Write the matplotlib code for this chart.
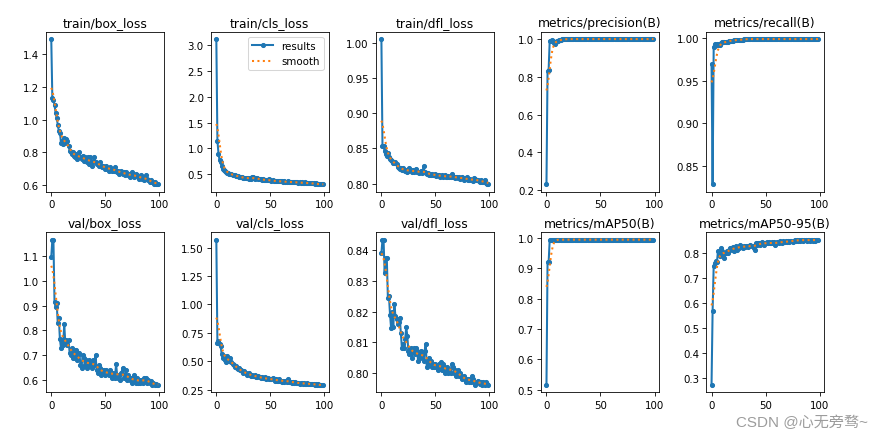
import numpy as np
import matplotlib
matplotlib.use("Agg")
import matplotlib.pyplot as plt

epochs = np.arange(100)

train_box_loss = [
    1.49, 1.13, 1.12, 1.09, 1.04, 1.01, 0.97, 0.93, 0.92, 0.86,
    0.87, 0.85, 0.89, 0.86, 0.88, 0.87, 0.84, 0.81, 0.80, 0.79,
    0.80, 0.78, 0.77, 0.79, 0.76, 0.78, 0.80, 0.77, 0.76, 0.78,
    0.75, 0.77, 0.76, 0.74, 0.77, 0.73, 0.77, 0.75, 0.72, 0.74,
    0.77, 0.74, 0.73, 0.73, 0.72, 0.74, 0.72, 0.71, 0.72, 0.71,
    0.70, 0.72, 0.70, 0.69, 0.71, 0.70, 0.69, 0.70, 0.69, 0.71,
    0.69, 0.68, 0.69, 0.67, 0.68, 0.69, 0.67, 0.68, 0.66, 0.68,
    0.67, 0.66, 0.67, 0.65, 0.66, 0.68, 0.66, 0.65, 0.67, 0.66,
    0.65, 0.64, 0.65, 0.66, 0.64, 0.65, 0.63, 0.64, 0.66, 0.64,
    0.63, 0.62, 0.63, 0.62, 0.62, 0.61, 0.62, 0.61, 0.61, 0.605,
]
train_cls_loss = [
    3.12, 1.15, 0.90, 0.77, 0.74, 0.66, 0.60, 0.58, 0.56, 0.54,
    0.53, 0.52, 0.51, 0.50, 0.50, 0.49, 0.48, 0.48, 0.47, 0.47,
    0.46, 0.45, 0.45, 0.44, 0.44, 0.43, 0.43, 0.42, 0.43, 0.42,
    0.41, 0.42, 0.41, 0.44, 0.45, 0.42, 0.41, 0.42, 0.43, 0.41,
    0.40, 0.40, 0.39, 0.40, 0.39, 0.39, 0.38, 0.38, 0.39, 0.40,
    0.38, 0.37, 0.38, 0.37, 0.37, 0.36, 0.37, 0.36, 0.36, 0.37,
    0.36, 0.36, 0.35, 0.36, 0.35, 0.35, 0.36, 0.35, 0.35, 0.34,
    0.35, 0.34, 0.35, 0.34, 0.35, 0.34, 0.33, 0.34, 0.33, 0.34,
    0.33, 0.33, 0.34, 0.33, 0.32, 0.33, 0.33, 0.32, 0.33, 0.32,
    0.32, 0.31, 0.32, 0.31, 0.31, 0.31, 0.30, 0.31, 0.30, 0.30,
]
train_dfl_loss = [
    1.005, 0.854, 0.853, 0.846, 0.842, 0.840, 0.843, 0.838, 0.835, 0.833,
    0.832, 0.830, 0.829, 0.831, 0.828, 0.824, 0.822, 0.821, 0.823, 0.820,
    0.822, 0.819, 0.818, 0.820, 0.817, 0.818, 0.822, 0.819, 0.817, 0.819,
    0.816, 0.818, 0.821, 0.817, 0.816, 0.815, 0.816, 0.818, 0.815, 0.825,
    0.817, 0.815, 0.814, 0.815, 0.813, 0.814, 0.813, 0.814, 0.812, 0.813,
    0.814, 0.811, 0.813, 0.812, 0.810, 0.811, 0.812, 0.810, 0.811, 0.812,
    0.810, 0.809, 0.811, 0.810, 0.809, 0.814, 0.810, 0.809, 0.808, 0.810,
    0.809, 0.808, 0.810, 0.807, 0.808, 0.810, 0.806, 0.808, 0.807, 0.809,
    0.806, 0.805, 0.807, 0.805, 0.806, 0.804, 0.808, 0.807, 0.805, 0.806,
    0.804, 0.803, 0.805, 0.803, 0.802, 0.804, 0.806, 0.801, 0.800, 0.799,
]
precision = [
    0.23, 0.83, 0.835, 0.99, 0.99, 0.995, 0.99, 0.98, 0.975, 0.985,
    0.99, 0.99, 0.993, 0.995, 0.997, 0.997, 0.998, 0.998, 0.999, 0.999,
] + [0.999] * 80
recall = [
    0.97, 0.828, 0.99, 0.993, 0.992, 0.993, 0.992, 0.993, 0.992, 0.994,
    0.995, 0.995, 0.995, 0.996, 0.996, 0.996, 0.997, 0.997, 0.997, 0.997,
    0.997, 0.998, 0.998, 0.998, 0.998, 0.998, 0.998, 0.998, 0.998, 0.998,
] + [0.999] * 70
val_box_loss = [
    1.095, 1.165, 1.165, 0.915, 0.895, 0.91, 0.83, 0.85, 0.765, 0.73,
    0.76, 0.74, 0.825, 0.75, 0.76, 0.74, 0.76, 0.71, 0.70, 0.73,
    0.69, 0.72, 0.69, 0.72, 0.68, 0.70, 0.71, 0.66, 0.65, 0.70,
    0.69, 0.66, 0.68, 0.65, 0.67, 0.68, 0.66, 0.67, 0.65, 0.68,
    0.66, 0.70, 0.64, 0.63, 0.66, 0.65, 0.62, 0.64, 0.63, 0.64,
    0.62, 0.64, 0.63, 0.62, 0.64, 0.63, 0.61, 0.63, 0.62, 0.61,
    0.665, 0.62, 0.61, 0.62, 0.60, 0.63, 0.65, 0.61, 0.62, 0.64,
    0.60, 0.62, 0.61, 0.60, 0.61, 0.59, 0.60, 0.62, 0.59, 0.61,
    0.59, 0.60, 0.59, 0.60, 0.60, 0.59, 0.61, 0.60, 0.61, 0.59,
    0.60, 0.59, 0.595, 0.58, 0.59, 0.585, 0.58, 0.585, 0.58, 0.58,
]
val_cls_loss = [
    1.57, 0.66, 0.68, 0.65, 0.63, 0.56, 0.53, 0.55, 0.51, 0.49,
    0.55, 0.52, 0.50, 0.53, 0.49, 0.48, 0.47, 0.45, 0.46, 0.44,
    0.43, 0.44, 0.42, 0.42, 0.41, 0.40, 0.41, 0.40, 0.38, 0.39,
    0.40, 0.38, 0.37, 0.38, 0.37, 0.37, 0.38, 0.36, 0.36, 0.37,
    0.36, 0.35, 0.36, 0.35, 0.35, 0.36, 0.34, 0.35, 0.35, 0.34,
    0.34, 0.34, 0.35, 0.34, 0.33, 0.34, 0.33, 0.33, 0.34, 0.33,
    0.33, 0.32, 0.33, 0.32, 0.33, 0.32, 0.34, 0.32, 0.32, 0.32,
    0.31, 0.32, 0.31, 0.32, 0.31, 0.31, 0.31, 0.30, 0.31, 0.31,
    0.30, 0.31, 0.30, 0.30, 0.31, 0.30, 0.30, 0.30, 0.30, 0.30,
    0.30, 0.29, 0.30, 0.29, 0.30, 0.29, 0.29, 0.29, 0.29, 0.29,
]
val_dfl_loss = [
    0.839, 0.8435, 0.8435, 0.8325, 0.8375, 0.8375, 0.8245, 0.825, 0.819, 0.8145,
    0.820, 0.815, 0.8225, 0.8185, 0.8175, 0.816, 0.8165, 0.818, 0.813, 0.808,
    0.8095, 0.808, 0.811, 0.815, 0.812, 0.807, 0.806, 0.808, 0.805, 0.807,
    0.808, 0.806, 0.808, 0.807, 0.804, 0.806, 0.805, 0.807, 0.806, 0.804,
    0.807, 0.8095, 0.802, 0.803, 0.805, 0.803, 0.804, 0.802, 0.803, 0.802,
    0.803, 0.802, 0.801, 0.803, 0.802, 0.8035, 0.801, 0.803, 0.802, 0.800,
    0.801, 0.802, 0.800, 0.801, 0.800, 0.803, 0.802, 0.800, 0.801, 0.799,
    0.800, 0.801, 0.799, 0.800, 0.799, 0.798, 0.799, 0.798, 0.797, 0.798,
    0.798, 0.797, 0.798, 0.797, 0.799, 0.798, 0.797, 0.796, 0.797, 0.7975,
    0.797, 0.7965, 0.797, 0.796, 0.797, 0.7965, 0.796, 0.797, 0.7962, 0.796,
]
map50 = [0.515, 0.92, 0.92, 0.995, 0.994, 0.995, 0.995, 0.994, 0.995, 0.995] + [0.995] * 90
map50_95 = [
    0.27, 0.57, 0.75, 0.76, 0.77, 0.765, 0.81, 0.80, 0.79, 0.82,
    0.81, 0.80, 0.78, 0.80, 0.81, 0.80, 0.815, 0.82, 0.82, 0.815,
    0.825, 0.81, 0.82, 0.83, 0.815, 0.82, 0.835, 0.83, 0.825, 0.82,
    0.83, 0.825, 0.83, 0.83, 0.825, 0.83, 0.835, 0.83, 0.83, 0.82,
    0.815, 0.84, 0.835, 0.84, 0.84, 0.835, 0.84, 0.845, 0.84, 0.835,
    0.84, 0.845, 0.84, 0.845, 0.84, 0.84, 0.845, 0.84, 0.845, 0.835,
    0.84, 0.845, 0.84, 0.85, 0.845, 0.84, 0.85, 0.845, 0.845, 0.85,
    0.845, 0.85, 0.845, 0.85, 0.85, 0.845, 0.85, 0.855, 0.85, 0.855,
    0.85, 0.855, 0.85, 0.855, 0.855, 0.85, 0.855, 0.855, 0.85, 0.855,
    0.855, 0.85, 0.855, 0.855, 0.85, 0.855, 0.85, 0.855, 0.855, 0.855,
]

titles = ["train/box_loss", "train/cls_loss", "train/dfl_loss",
          "metrics/precision(B)", "metrics/recall(B)",
          "val/box_loss", "val/cls_loss", "val/dfl_loss",
          "metrics/mAP50(B)", "metrics/mAP50-95(B)"]
series = [train_box_loss, train_cls_loss, train_dfl_loss, precision, recall,
          val_box_loss, val_cls_loss, val_dfl_loss, map50, map50_95]


def gsmooth(y, sigma=3):
    # same as scipy gaussian_filter1d with mode='reflect'
    r = int(4 * sigma + 0.5)
    k = np.exp(-0.5 * (np.arange(-r, r + 1) / sigma) ** 2)
    k /= k.sum()
    yp = np.pad(np.asarray(y, dtype=float), r, mode="symmetric")
    return np.convolve(yp, k, mode="valid")


fig, axes = plt.subplots(2, 5, figsize=(12, 6.0204), dpi=73.583)
fig.subplots_adjust(left=0.052, right=0.933, top=0.926, bottom=0.112,
                    wspace=0.403, hspace=0.254)
axes = axes.ravel()

for ax, title, y in zip(axes, titles, series):
    y = np.array(y)
    ax.plot(epochs, y, marker=".", label="results", linewidth=2, markersize=8)
    ax.plot(epochs, gsmooth(y), ":", label="smooth", linewidth=2)
    ax.set_title(title, fontsize=12)

axes[1].legend()

# CSDN watermark
fig.text(0.983, 0.045, "CSDN @心无旁骛~", ha="right", va="center",
         fontsize=14.8, color="#9c9c9c",
         family=["Liberation Sans", "Noto Sans CJK SC"])

fig.savefig("out.png")
